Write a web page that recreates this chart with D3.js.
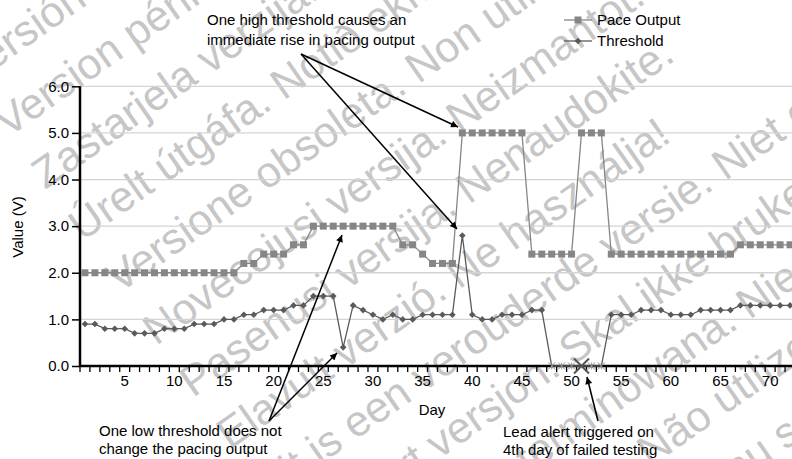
<!DOCTYPE html>
<html><head><meta charset="utf-8">
<script src="https://cdn.jsdelivr.net/npm/d3@7"></script>
<style>
html,body{margin:0;padding:0;background:#fff;}
svg{display:block;}
text{font-family:"Liberation Sans",Arial,sans-serif;}
</style></head>
<body><svg id="chart" width="792" height="459"></svg>
<script>
// ---------- data ----------
const days = d3.range(1, 73);
const paceOutput = [
  2.0,2.0,2.0,2.0,2.0,2.0,2.0,2.0,2.0,2.0,2.0,2.0,2.0,2.0,2.0,2.0,
  2.2,2.2,
  2.4,2.4,2.4,
  2.6,2.6,
  3.0,3.0,3.0,3.0,3.0,3.0,3.0,3.0,3.0,
  2.6,2.6,
  2.4,
  2.2,2.2,2.2,
  5.0,5.0,5.0,5.0,5.0,5.0,5.0,
  2.4,2.4,2.4,2.4,2.4,
  5.0,5.0,5.0,
  2.4,2.4,2.4,2.4,2.4,2.4,2.4,2.4,2.4,2.4,2.4,2.4,2.4,
  2.6,2.6,2.6,2.6,2.6,2.6
];
const threshold = [
  0.9,0.9,0.8,0.8,0.8,0.7,0.7,0.7,0.8,0.8,0.8,0.9,0.9,0.9,1.0,1.0,
  1.1,1.1,1.2,1.2,1.2,1.3,1.3,1.5,1.5,1.5,0.4,1.3,1.2,1.1,1.0,1.1,
  1.0,1.0,1.1,1.1,1.1,1.1,2.8,1.1,1.0,1.0,1.1,1.1,1.1,1.2,1.2,
  0,0,0,0,0,0,
  1.1,1.1,1.1,1.2,1.2,1.2,1.1,1.1,1.1,1.2,1.2,1.2,1.2,
  1.3,1.3,1.3,1.3,1.3,1.3
];
const yTicks = [0,1,2,3,4,5,6];
const xTickLabels = [5,10,15,20,25,30,35,40,45,50,55,60,65,70];
const seriesNames = ["Pace Output","Threshold"];
const alertDay = 51;
const watermark = [
  "Versión obsoleta. No utilizar.",
  "Version périmée. Ne pas utiliser.",
  "Zastarjela verzija. Nemojte upotrebljavati.",
  "Úrelt útgáfa. Notið ekki.",
  "Versione obsoleta. Non utilizzare.",
  "Novecojusi versija. Neizmantot.",
  "Pasenusi versija. Nenaudokite.",
  "Elavult verzió. Ne használja!",
  "Dit is een verouderde versie. Niet gebruiken.",
  "Utdatert versjon. Skal ikke brukes.",
  "Wersja przeterminowana. Nie używać.",
  "Versão obsoleta. Não utilize.",
  "Versiune expirată. A nu se utiliza.",
  "Zastaraná verzia. Nepoužívať."
];

// ---------- layout ----------
const svg = d3.select("#chart");
const W = 792, H = 459;
const plotL = 80, plotR = 795, plotT = 86.3, plotB = 366;
const x = d3.scaleBand().domain(days).range([plotL, plotR]);
const xc = d => x(d) + x.bandwidth()/2;
const y = d3.scaleLinear().domain([0,6]).range([plotB, plotT]);

// defs
const defs = svg.append("defs");
defs.append("marker").attr("id","arr").attr("viewBox","0 0 10 10")
  .attr("refX",10).attr("refY",5).attr("markerWidth",9).attr("markerHeight",7)
  .attr("markerUnits","userSpaceOnUse").attr("orient","auto")
  .append("path").attr("d","M0,0 L10,5 L0,10 z").attr("fill","#000");
defs.append("clipPath").attr("id","page").append("rect")
  .attr("x",0).attr("y",0).attr("width",W).attr("height",H);

// watermark (background)
const wm = svg.append("g").attr("class","watermark").attr("clip-path","url(#page)");
watermark.forEach((t,i) => {
  const k = i - 2;
  const sx = 45 + 37*k, sy = 190 + 52*k;
  wm.append("text").attr("transform",`translate(${sx},${sy}) rotate(-35)`)
    .attr("font-size",43).attr("fill","#c6c6c6").text(t);
});

// gridlines
svg.append("g").selectAll("line").data(yTicks.filter(v=>v>0)).join("line")
  .attr("x1",plotL).attr("x2",W).attr("y1",d=>y(d)).attr("y2",d=>y(d))
  .attr("stroke","#d4d4d4").attr("stroke-width",1.3);

// y axis
const yAxis = svg.append("g").attr("transform",`translate(${plotL},0)`)
  .call(d3.axisLeft(y).tickValues(yTicks).tickFormat(d3.format(".1f")).tickSize(8).tickPadding(3));
yAxis.select(".domain").attr("stroke","#000").attr("stroke-width",2.5).attr("d",`M0,${plotT}V${plotB}`);
yAxis.selectAll(".tick line").attr("stroke","#000").attr("stroke-width",1.5);
yAxis.selectAll(".tick text").attr("font-size",15).attr("fill","#000").attr("font-family","Liberation Sans, Arial, sans-serif");

// x axis
const xAxis = svg.append("g").attr("transform",`translate(0,${plotB})`)
  .call(d3.axisBottom(x).tickValues(xTickLabels).tickSize(0).tickPadding(9));
xAxis.select(".domain").remove();
xAxis.selectAll(".tick text").attr("font-size",15).attr("fill","#000").attr("font-family","Liberation Sans, Arial, sans-serif");
svg.append("g").selectAll("line").data(days).join("line")
  .attr("x1",d=>x(d)).attr("x2",d=>x(d)).attr("y1",plotB).attr("y2",plotB+6)
  .attr("stroke","#000").attr("stroke-width",1.3);
svg.append("line").attr("x1",plotL-1).attr("x2",W).attr("y1",plotB).attr("y2",plotB)
  .attr("stroke","#000").attr("stroke-width",2.5);

// axis titles
svg.append("text").attr("x",432).attr("y",415).attr("text-anchor","middle")
  .attr("font-size",15).text("Day");
svg.append("text").attr("transform","translate(23,227) rotate(-90)").attr("text-anchor","middle")
  .attr("font-size",15).text("Value (V)");

// series
const paceColor = "#868686", thrColor = "#5a5a5a";
const line = d3.line().x((d,i)=>xc(days[i])).y(d=>y(d));
svg.append("path").datum(paceOutput).attr("d",line).attr("fill","none")
  .attr("stroke",paceColor).attr("stroke-width",1.3);
svg.append("path").datum(threshold).attr("d",line).attr("fill","none")
  .attr("stroke",thrColor).attr("stroke-width",1.3);

const sq = 7;
svg.append("g").selectAll("rect").data(paceOutput).join("rect")
  .attr("x",(d,i)=>xc(days[i])-sq/2).attr("y",d=>y(d)-sq/2)
  .attr("width",sq).attr("height",sq).attr("fill",paceColor);

svg.append("g").selectAll("path").data(threshold.map((v,i)=>({v,d:days[i]})).filter(p=>p.v>0)).join("path")
  .attr("d", d3.symbol().type(d3.symbolSquare).size(22))
  .attr("transform",p=>`translate(${xc(p.d)},${y(p.v)}) rotate(45)`)
  .attr("fill",thrColor);

// failed test markers (zero values)
const zeros = threshold.map((v,i)=>({v,d:days[i]})).filter(p=>p.v===0);
const zg = svg.append("g");
zeros.forEach(p => {
  const cx = xc(p.d), cy = y(0), s = p.d===alertDay ? 7.5 : 3.5;
  const sw = p.d===alertDay ? 2 : 1;
  const col = p.d===alertDay ? "#555" : "#8a8a8a";
  zg.append("path").attr("d",`M${cx-s},${cy-s}L${cx+s},${cy+s}M${cx-s},${cy+s}L${cx+s},${cy-s}`)
    .attr("stroke",col).attr("stroke-width",sw).attr("fill","none");
  if (p.d!==alertDay) {
    zg.append("path").attr("d",`M${cx},${cy-s}V${cy+s}`).attr("stroke",col).attr("stroke-width",0.8);
  }
});

// legend
const lg = svg.append("g");
[[seriesNames[0],paceColor,"sq",20],[seriesNames[1],thrColor,"dia",41]].forEach(([name,col,m,yy])=>{
  lg.append("line").attr("x1",564).attr("x2",592).attr("y1",yy).attr("y2",yy)
    .attr("stroke",col).attr("stroke-width",1.3);
  if (m==="sq") lg.append("rect").attr("x",578-3.5).attr("y",yy-3.5).attr("width",7).attr("height",7).attr("fill",col);
  else lg.append("path").attr("d",d3.symbol().type(d3.symbolSquare).size(22)).attr("transform",`translate(578,${yy}) rotate(45)`).attr("fill",col);
  lg.append("text").attr("x",597).attr("y",yy+5.3).attr("font-size",15).text(name);
});

// annotations
function multiline(xp, yp, lines, dy){
  const t = svg.append("text").attr("x",xp).attr("y",yp).attr("font-size",15);
  lines.forEach((s,i)=>t.append("tspan").attr("x",xp).attr("dy",i?dy:0).text(s));
}
multiline(207, 25, ["One high threshold causes an","immediate rise in pacing output"], 20);
multiline(99, 435.5, ["One low threshold does not","change the pacing output"], 18.3);
multiline(503, 436.5, ["Lead alert triggered on","4th day of failed testing"], 18.3);

function arrow(x1,y1,x2,y2){
  svg.append("line").attr("x1",x1).attr("y1",y1).attr("x2",x2).attr("y2",y2)
    .attr("stroke","#000").attr("stroke-width",1.5).attr("marker-end","url(#arr)");
}
arrow(301,54, 458,127);
arrow(301,54, 457,229);
arrow(269,421, 342,235);
arrow(269,421, 337,353);
arrow(598,421, 587,377);
</script></body></html>
